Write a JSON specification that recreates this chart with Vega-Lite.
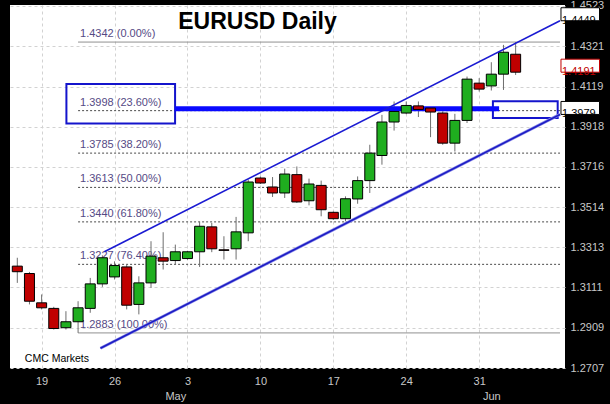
{
  "$schema": "https://vega.github.io/schema/vega-lite/v6.json",
  "width": 555,
  "height": 363,
  "autosize": {"type": "none"},
  "padding": {"left": 10, "top": 5, "right": 45, "bottom": 36},
  "background": "black",
  "config": {"view": {"fill": "white", "stroke": null}, "font": "Liberation Sans"},
  "title": {"text": "EURUSD Daily", "orient": "top", "anchor": "middle", "frame": "group", "dx": -30, "offset": -52, "fontSize": 23, "font": "Liberation Sans", "fontWeight": "bold", "color": "black", "baseline": "alphabetic"},
  "datasets": {
    "candles": [
      {"date": "2009-04-16", "i": 0, "o": 1.3218, "h": 1.3260, "l": 1.3134, "c": 1.3190},
      {"date": "2009-04-17", "i": 1, "o": 1.3181, "h": 1.3189, "l": 1.3026, "c": 1.3042},
      {"date": "2009-04-19", "i": 2, "o": 1.3034, "h": 1.3076, "l": 1.3001, "c": 1.3009},
      {"date": "2009-04-20", "i": 3, "o": 1.3006, "h": 1.3014, "l": 1.2900, "c": 1.2905},
      {"date": "2009-04-21", "i": 4, "o": 1.2909, "h": 1.2992, "l": 1.2900, "c": 1.2939},
      {"date": "2009-04-22", "i": 5, "o": 1.2939, "h": 1.3042, "l": 1.2883, "c": 1.3009},
      {"date": "2009-04-23", "i": 6, "o": 1.3006, "h": 1.3159, "l": 1.2984, "c": 1.3129},
      {"date": "2009-04-24", "i": 7, "o": 1.3129, "h": 1.3272, "l": 1.3114, "c": 1.3260},
      {"date": "2009-04-26", "i": 8, "o": 1.3164, "h": 1.3242, "l": 1.3151, "c": 1.3221},
      {"date": "2009-04-27", "i": 9, "o": 1.3214, "h": 1.3226, "l": 1.3001, "c": 1.3022},
      {"date": "2009-04-28", "i": 10, "o": 1.3026, "h": 1.3167, "l": 1.2976, "c": 1.3134},
      {"date": "2009-04-29", "i": 11, "o": 1.3134, "h": 1.3343, "l": 1.3109, "c": 1.3268},
      {"date": "2009-04-30", "i": 12, "o": 1.3260, "h": 1.3388, "l": 1.3201, "c": 1.3243},
      {"date": "2009-05-01", "i": 13, "o": 1.3246, "h": 1.3326, "l": 1.3226, "c": 1.3290},
      {"date": "2009-05-03", "i": 14, "o": 1.3256, "h": 1.3295, "l": 1.3250, "c": 1.3290},
      {"date": "2009-05-04", "i": 15, "o": 1.3290, "h": 1.3440, "l": 1.3214, "c": 1.3418},
      {"date": "2009-05-05", "i": 16, "o": 1.3415, "h": 1.3435, "l": 1.3288, "c": 1.3305},
      {"date": "2009-05-06", "i": 17, "o": 1.3300, "h": 1.3368, "l": 1.3251, "c": 1.3297},
      {"date": "2009-05-07", "i": 18, "o": 1.3305, "h": 1.3465, "l": 1.3251, "c": 1.3390},
      {"date": "2009-05-08", "i": 19, "o": 1.3385, "h": 1.3652, "l": 1.3343, "c": 1.3640},
      {"date": "2009-05-10", "i": 20, "o": 1.3660, "h": 1.3668, "l": 1.3630, "c": 1.3635},
      {"date": "2009-05-11", "i": 21, "o": 1.3615, "h": 1.3665, "l": 1.3565, "c": 1.3585},
      {"date": "2009-05-12", "i": 22, "o": 1.3585, "h": 1.3707, "l": 1.3560, "c": 1.3680},
      {"date": "2009-05-13", "i": 23, "o": 1.3677, "h": 1.3718, "l": 1.3535, "c": 1.3540},
      {"date": "2009-05-14", "i": 24, "o": 1.3546, "h": 1.3657, "l": 1.3523, "c": 1.3630},
      {"date": "2009-05-15", "i": 25, "o": 1.3623, "h": 1.3647, "l": 1.3468, "c": 1.3501},
      {"date": "2009-05-17", "i": 26, "o": 1.3488, "h": 1.3492, "l": 1.3450, "c": 1.3456},
      {"date": "2009-05-18", "i": 27, "o": 1.3456, "h": 1.3568, "l": 1.3443, "c": 1.3556},
      {"date": "2009-05-19", "i": 28, "o": 1.3555, "h": 1.3668, "l": 1.3531, "c": 1.3647},
      {"date": "2009-05-20", "i": 29, "o": 1.3647, "h": 1.3827, "l": 1.3585, "c": 1.3785},
      {"date": "2009-05-21", "i": 30, "o": 1.3773, "h": 1.3977, "l": 1.3727, "c": 1.3941},
      {"date": "2009-05-22", "i": 31, "o": 1.3941, "h": 1.4044, "l": 1.3898, "c": 1.3994},
      {"date": "2009-05-24", "i": 32, "o": 1.3986, "h": 1.4044, "l": 1.3980, "c": 1.4024},
      {"date": "2009-05-25", "i": 33, "o": 1.4022, "h": 1.4044, "l": 1.3966, "c": 1.4004},
      {"date": "2009-05-26", "i": 34, "o": 1.4011, "h": 1.4013, "l": 1.3865, "c": 1.3991},
      {"date": "2009-05-27", "i": 35, "o": 1.3986, "h": 1.3994, "l": 1.3827, "c": 1.3835},
      {"date": "2009-05-28", "i": 36, "o": 1.3835, "h": 1.3982, "l": 1.3793, "c": 1.3949},
      {"date": "2009-05-29", "i": 37, "o": 1.3949, "h": 1.4169, "l": 1.3936, "c": 1.4156},
      {"date": "2009-05-31", "i": 38, "o": 1.4136, "h": 1.4161, "l": 1.4094, "c": 1.4106},
      {"date": "2009-06-01", "i": 39, "o": 1.4122, "h": 1.4241, "l": 1.4099, "c": 1.4181},
      {"date": "2009-06-02", "i": 40, "o": 1.4181, "h": 1.4328, "l": 1.4102, "c": 1.4291},
      {"date": "2009-06-03", "i": 41, "o": 1.4281, "h": 1.4342, "l": 1.4177, "c": 1.4191}
    ],
    "fib": [
      {"level": 1.4342, "label": "1.4342  (0.00%)"},
      {"level": 1.3998, "label": "1.3998  (23.60%)"},
      {"level": 1.3785, "label": "1.3785  (38.20%)"},
      {"level": 1.3613, "label": "1.3613  (50.00%)"},
      {"level": 1.3440, "label": "1.3440  (61.80%)"},
      {"level": 1.3227, "label": "1.3227  (76.40%)"},
      {"level": 1.2883, "label": "1.2883  (100.00%)"}
    ],
    "channel": [
      {"name": "upper", "i": 7.16, "v": 1.3290},
      {"name": "upper", "i": 44.65, "v": 1.4449},
      {"name": "lower", "i": 6.84, "v": 1.2806},
      {"name": "lower", "i": 44.65, "v": 1.3979}
    ],
    "level": [{"i1": 12.98, "i2": 39.64, "v": 1.4007}],
    "boxes": [
      {"i1": 4.04, "i2": 12.98, "v1": 1.4132, "v2": 1.3934},
      {"i1": 39.13, "i2": 44.46, "v1": 1.4045, "v2": 1.3961}
    ],
    "prices": [
      {"v": 1.4449, "label": "1.4449", "kind": "channel"},
      {"v": 1.4191, "label": "1.4191", "kind": "close"},
      {"v": 1.3979, "label": "1.3979", "kind": "channel"}
    ],
    "note": [{"text": "CMC Markets"}]
  },
  "resolve": {"scale": {"x": "shared", "y": "shared"}, "axis": {"x": "independent", "y": "independent"}},
  "layer": [
    {
      "data": {"name": "fib"},
      "mark": {"type": "rule", "strokeWidth": 1},
      "encoding": {
        "x": {"datum": 5, "type": "quantitative", "scale": {"domain": [-0.19, 44.65], "nice": false, "zero": false}, "axis": null},
        "x2": {"datum": 44.65},
        "y": {"field": "level", "type": "quantitative", "scale": {"domain": [1.2707, 1.4528], "nice": false, "zero": false}, "axis": null},
        "color": {"condition": {"test": "datum.level == 1.4342 || datum.level == 1.2883", "value": "#8c8c8c"}, "value": "#4a4a4a"},
        "strokeDash": {"condition": {"test": "datum.level == 1.4342 || datum.level == 1.2883", "value": [1, 0]}, "value": [2, 2]}
      }
    },
    {
      "data": {"name": "fib"},
      "mark": {"type": "text", "align": "left", "baseline": "middle", "dx": 2, "dy": -8, "fontSize": 11, "color": "#554a85", "font": "Liberation Sans"},
      "encoding": {
        "x": {"datum": 5, "type": "quantitative", "scale": {"domain": [-0.19, 44.65], "nice": false, "zero": false}, "axis": null},
        "y": {"field": "level", "type": "quantitative", "scale": {"domain": [1.2707, 1.4528], "nice": false, "zero": false}, "axis": null},
        "text": {"field": "label"}
      }
    },
    {
      "data": {"name": "boxes"},
      "mark": {"type": "rect", "filled": false, "color": "#1414cc", "strokeWidth": 2},
      "encoding": {
        "x": {"field": "i1", "type": "quantitative", "scale": {"domain": [-0.19, 44.65], "nice": false, "zero": false}, "axis": null},
        "x2": {"field": "i2"},
        "y": {"field": "v1", "type": "quantitative", "scale": {"domain": [1.2707, 1.4528], "nice": false, "zero": false}, "axis": null},
        "y2": {"field": "v2"}
      }
    },
    {
      "data": {"name": "candles"},
      "mark": {"type": "rule", "color": "#6e6e6e", "strokeWidth": 1},
      "encoding": {
        "x": {"field": "i", "type": "quantitative", "scale": {"domain": [-0.19, 44.65], "nice": false, "zero": false},
          "axis": {"orient": "bottom", "values": [13, 39], "labelExpr": "datum.value == 13 ? 'May' : 'Jun'", "grid": false, "ticks": false, "domain": false, "labelColor": "#c8c8c8", "labelFont": "Liberation Sans", "labelFontSize": 11, "labelPadding": 22, "labelOverlap": false, "title": null}},
        "y": {"field": "l", "type": "quantitative", "scale": {"domain": [1.2707, 1.4528], "nice": false, "zero": false}, "axis": null},
        "y2": {"field": "h"}
      }
    },
    {
      "data": {"name": "level"},
      "mark": {"type": "rule", "color": "#0a0aff", "strokeWidth": 5},
      "encoding": {
        "x": {"field": "i1", "type": "quantitative", "scale": {"domain": [-0.19, 44.65], "nice": false, "zero": false}, "axis": null},
        "x2": {"field": "i2"},
        "y": {"field": "v", "type": "quantitative", "scale": {"domain": [1.2707, 1.4528], "nice": false, "zero": false}, "axis": null}
      }
    },
    {
      "data": {"name": "candles"},
      "mark": {"type": "bar", "size": 10, "stroke": "black", "strokeWidth": 1},
      "encoding": {
        "x": {"field": "i", "type": "quantitative", "scale": {"domain": [-0.19, 44.65], "nice": false, "zero": false},
          "axis": {"orient": "bottom", "values": [2, 8, 14, 20, 26, 32, 38], "labelExpr": "datum.value == 2 ? '19' : datum.value == 8 ? '26' : datum.value == 14 ? '3' : datum.value == 20 ? '10' : datum.value == 26 ? '17' : datum.value == 32 ? '24' : '31'", "grid": true, "gridColor": "#d2d2d2", "gridDash": [3, 3], "ticks": false, "domain": false, "labelColor": "#c8c8c8", "labelFont": "Liberation Sans", "labelFontSize": 11, "labelPadding": 7, "labelOverlap": false, "title": null}},
        "y": {"field": "o", "type": "quantitative", "scale": {"domain": [1.2707, 1.4528], "nice": false, "zero": false},
          "axis": {"orient": "right", "values": [1.2707, 1.2909, 1.3111, 1.3313, 1.3514, 1.3716, 1.3918, 1.4119, 1.4321, 1.4523], "format": ".4f", "grid": true, "gridColor": "#d2d2d2", "gridDash": [3, 3], "ticks": false, "domain": false, "labelColor": "#c8c8c8", "labelFont": "Liberation Sans", "labelFontSize": 11, "labelPadding": 5, "labelOverlap": false, "labelBaseline": "middle", "title": null}},
        "y2": {"field": "c"},
        "color": {"condition": {"test": "datum.c > datum.o", "value": "#1fae1f"}, "value": "#c00000"}
      }
    },
    {
      "data": {"name": "channel"},
      "transform": [{"filter": "datum.name == 'lower'"}],
      "mark": {"type": "line", "color": "#8a8ae8", "strokeWidth": 3},
      "encoding": {
        "x": {"field": "i", "type": "quantitative", "scale": {"domain": [-0.19, 44.65], "nice": false, "zero": false}, "axis": null},
        "y": {"field": "v", "type": "quantitative", "scale": {"domain": [1.2707, 1.4528], "nice": false, "zero": false}, "axis": null}
      }
    },
    {
      "data": {"name": "channel"},
      "transform": [{"filter": "datum.name == 'lower'"}],
      "mark": {"type": "line", "color": "#1c1cc4", "strokeWidth": 1.6},
      "encoding": {
        "x": {"field": "i", "type": "quantitative", "scale": {"domain": [-0.19, 44.65], "nice": false, "zero": false}, "axis": null},
        "y": {"field": "v", "type": "quantitative", "scale": {"domain": [1.2707, 1.4528], "nice": false, "zero": false}, "axis": null}
      }
    },
    {
      "data": {"name": "channel"},
      "transform": [{"filter": "datum.name == 'upper'"}],
      "mark": {"type": "line", "color": "#1a1ad2", "strokeWidth": 1.6},
      "encoding": {
        "x": {"field": "i", "type": "quantitative", "scale": {"domain": [-0.19, 44.65], "nice": false, "zero": false}, "axis": null},
        "y": {"field": "v", "type": "quantitative", "scale": {"domain": [1.2707, 1.4528], "nice": false, "zero": false}, "axis": null}
      }
    },
    {
      "data": {"name": "prices"},
      "mark": {"type": "rect", "height": 13, "yOffset": -6.5, "fill": "white", "strokeWidth": 1},
      "encoding": {
        "x": {"datum": 44.73, "type": "quantitative", "scale": {"domain": [-0.19, 44.65], "nice": false, "zero": false}, "axis": null},
        "x2": {"datum": 47.9},
        "y": {"field": "v", "type": "quantitative", "scale": {"domain": [1.2707, 1.4528], "nice": false, "zero": false}, "axis": null},
        "stroke": {"condition": {"test": "datum.kind == 'close'", "value": "#c00000"}, "value": "black"}
      }
    },
    {
      "data": {"name": "prices"},
      "mark": {"type": "text", "align": "left", "baseline": "middle", "dx": 1, "fontSize": 11, "font": "Liberation Sans"},
      "encoding": {
        "x": {"datum": 44.73, "type": "quantitative", "scale": {"domain": [-0.19, 44.65], "nice": false, "zero": false}, "axis": null},
        "y": {"field": "v", "type": "quantitative", "scale": {"domain": [1.2707, 1.4528], "nice": false, "zero": false}, "axis": null},
        "text": {"field": "label"},
        "color": {"condition": {"test": "datum.kind == 'close'", "value": "#c00000"}, "value": "black"}
      }
    },
    {
      "data": {"name": "note"},
      "mark": {"type": "text", "align": "left", "baseline": "middle", "fontSize": 10.5, "color": "black", "font": "Liberation Sans"},
      "encoding": {
        "x": {"datum": 0.62, "type": "quantitative", "scale": {"domain": [-0.19, 44.65], "nice": false, "zero": false}, "axis": null},
        "y": {"datum": 1.2752, "type": "quantitative", "scale": {"domain": [1.2707, 1.4528], "nice": false, "zero": false}, "axis": null},
        "text": {"field": "text"}
      }
    }
  ]
}
